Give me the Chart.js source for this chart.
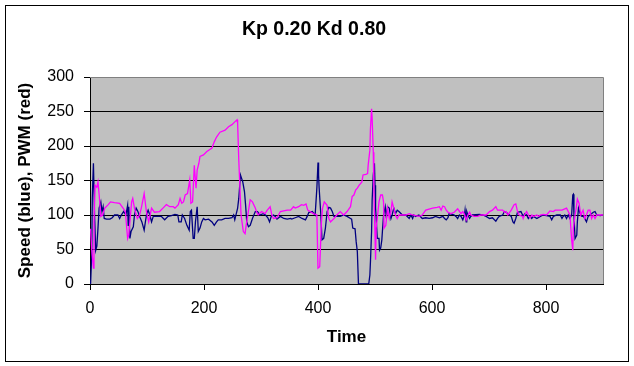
<!DOCTYPE html>
<html>
<head>
<meta charset="utf-8">
<script src="https://cdn.jsdelivr.net/npm/chart.js@4"></script>
<style>
  html, body { margin: 0; padding: 0; background: #fff; }
</style>
</head>
<body>
<canvas id="pidChart" width="634" height="366"></canvas>
<script>
// values (Kp 0.20 Kd 0.80 run)
const speedTime = [
  1, 3, 4, 6, 8, 10, 12, 14, 16, 19, 21, 23, 25, 29, 35, 39, 43, 49, 52, 55, 59, 63, 66, 67, 68, 70, 72, 76, 78, 81,
  84, 87, 91, 95, 99, 102, 105, 108, 111, 125, 131, 137, 143, 149,
  154, 156, 160, 162, 166, 170, 174, 176, 178, 181, 183, 185, 188, 190, 193, 196, 199, 202, 208, 214,
  218, 222, 225, 231, 237, 243, 249, 252, 254, 259, 261, 264, 266, 268, 271, 273, 275, 278, 281, 285,
  290, 294, 298, 304,
  308, 312, 315, 318, 322, 325, 328, 334, 340, 346, 352, 354, 360, 366, 372, 378, 381, 384, 390, 395,
  398, 400, 401, 402, 405, 407, 410, 413, 416, 419, 422, 425, 428, 433, 439, 445, 451, 457,
  459, 461, 465, 467, 469, 471, 489, 491, 492, 494, 495, 497, 499, 500, 501, 504, 507, 508, 510, 512,
  513, 515, 518, 520, 522, 525, 528, 530, 533, 536, 539, 542, 548, 554, 560, 563, 566, 568, 571, 577,
  583, 589, 595, 601, 606,
  613, 619, 622, 625, 628, 630, 636, 639, 642, 645, 648, 651, 654, 657, 658, 660, 661, 663, 666, 668,
  671, 683, 689, 695, 701, 706, 712, 715, 718, 724, 727, 730, 736, 739, 742, 744, 747, 750, 756,
  760, 763, 766, 769, 772, 775, 778, 784, 790, 795, 801, 807, 810, 813, 819, 825, 828, 830, 833, 836,
  839, 842, 845, 847, 848, 849, 851, 854, 855, 857, 860, 863, 866, 871, 874, 877, 883, 886, 889, 895, 900
];
const speed = [
  0, 42, 125, 175, 100, 49, 55, 81, 110, 119, 105, 112, 95, 94, 94, 96, 100, 100, 95, 100, 105, 100, 114, 85, 112, 66, 76, 83, 100, 110,
  105, 98, 90, 78, 100, 107, 100, 90, 98, 98, 93, 98, 99, 101,
  100, 90, 90, 100, 95, 85, 78, 105, 107, 66, 66, 90, 112, 76, 81, 90, 95, 93, 94, 90,
  85, 90, 93, 93, 95, 95, 96, 100, 93, 110, 124, 158, 153, 148, 134, 114, 90, 83, 85, 95,
  105, 105, 100, 102,
  100, 96, 90, 98, 100, 98, 94, 98, 95, 94, 95, 94, 96, 98, 95, 93, 98, 104, 105, 100,
  139, 176, 158, 139, 100, 64, 66, 81, 105, 111, 110, 105, 98, 98, 98, 100, 98, 95,
  94, 81, 80, 61, 47, 0, 0, 13, 32, 76, 122, 158, 175, 143, 110, 66, 66, 49, 52, 64,
  76, 100, 112, 95, 112, 110, 95, 100, 110, 102, 107, 105, 100, 100, 95, 100, 95, 100, 98, 100,
  95, 96, 95, 96, 98,
  96, 98, 95, 93, 96, 102, 101, 100, 98, 95, 100, 98, 93, 100, 107, 90, 105, 100, 95, 98,
  100, 101, 100, 98, 95, 96, 91, 95, 98, 100, 105, 104, 100, 98, 90, 88, 95, 104, 105,
  98, 102, 100, 95, 98, 95, 98, 95, 98, 100, 99, 98, 93, 98, 100, 100, 95, 98, 100, 95,
  100, 95, 100, 129, 130, 100, 66, 71, 90, 110, 102, 98, 98, 90, 98, 100, 104, 105, 100, 99, 100
];

const pwmTime = [
  1, 3, 6, 7, 9, 12, 14, 16, 19, 22, 26, 32, 36, 43, 52, 58, 62, 66, 68, 73,
  75, 78, 83, 87, 90, 95, 99, 103, 108, 113, 122, 128, 134, 140, 146,
  149, 155, 158, 161, 164, 167, 171, 175, 177, 180, 183, 186, 188, 191, 193, 199, 205, 214, 218, 222,
  228, 237, 243, 249, 254, 258, 259, 261, 265, 269, 272, 274, 281, 285, 290, 292, 295, 301, 307,
  311, 316, 319, 322, 328, 334, 346, 352, 357, 360, 366, 371, 375, 379, 382, 386, 392, 398, 400, 403,
  406, 408, 411, 416, 419, 422, 428, 433, 439, 445, 451, 457,
  460, 463, 466, 469, 472, 477, 479, 484, 487, 488, 491, 492, 494, 495, 497, 498, 500, 501, 502, 504,
  507, 510, 513, 515, 516, 519, 522, 525, 528, 530, 533, 536, 539, 542, 554, 560, 566, 577, 583, 589,
  601, 609,
  613, 616, 619, 622, 625, 628, 633, 639, 645, 651, 654, 657, 660, 663, 666, 668, 674, 680, 686, 695,
  701, 706, 712, 715, 724, 727, 730, 733, 739, 744, 747, 750, 753, 759,
  760, 763, 766, 769, 772, 775, 778, 784, 787, 790, 795, 801, 807, 813, 816, 828, 833, 836, 839, 842,
  845, 847, 848, 851, 853, 855, 858, 861, 865, 868, 871, 874, 877, 880, 883, 886, 889, 900
];
const pwm = [
  80, 50, 23, 90, 143, 140, 148, 130, 98, 100, 110, 115, 119, 118, 117, 110, 105, 66, 71, 119,
  124, 110, 95, 100, 110, 131, 105, 90, 110, 104, 105, 110, 115, 112, 112,
  110, 115, 124, 117, 119, 129, 131, 151, 117, 119, 172, 139, 165, 175, 185, 187, 192, 197, 206, 213,
  220, 223, 228, 231, 235, 238, 233, 180, 100, 76, 73, 85, 122, 119, 110, 105, 100, 105, 102,
  107, 112, 100, 95, 96, 105, 107, 107, 112, 110, 112, 115, 114, 116, 107, 105, 102, 100, 23, 25,
  90, 110, 119, 114, 95, 90, 95, 100, 105, 100, 105, 112,
  127, 129, 136, 139, 143, 148, 158, 159, 160, 172, 194, 225, 254, 240, 191, 139, 71, 35, 81, 95,
  119, 129, 129, 119, 81, 85, 110, 95, 105, 119, 110, 100, 95, 100, 100, 102, 100, 98, 100, 107,
  110, 111,
  112, 107, 113, 112, 107, 104, 102, 104, 109, 102, 105, 101, 93, 100, 104, 100, 98, 98, 100, 100,
  105, 107, 112, 107, 107, 104, 105, 100, 107, 115, 116, 105, 100, 98,
  95, 101, 105, 100, 96, 100, 98, 100, 98, 100, 101, 100, 106, 105, 107, 107, 109, 110, 105, 100,
  64, 49, 81, 100, 110, 123, 117, 100, 107, 95, 100, 107, 107, 95, 100, 95, 100, 100
];

const xTicks = [0, 200, 400, 600, 800];
const yTicks = [0, 50, 100, 150, 200, 250, 300];

const FONT = 'Liberation Sans, Arial, sans-serif';

const toPoints = (xs, ys) => xs.map((x, i) => ({ x, y: ys[i] }));

// white sheet, outer frame, grey plot area like the Excel default
const excelFrame = {
  id: 'excelFrame',
  beforeDraw(chart) {
    const { ctx, chartArea: a, width, height } = chart;
    ctx.save();
    ctx.fillStyle = '#fff';
    ctx.fillRect(0, 0, width, height);
    ctx.strokeStyle = '#000';
    ctx.lineWidth = 1;
    ctx.strokeRect(5.5, 5.5, 623, 356);
    ctx.fillStyle = '#c0c0c0';
    ctx.fillRect(a.left, a.top, a.right - a.left, a.bottom - a.top);
    ctx.restore();
  },
  afterDatasetsDraw(chart) {
    const { ctx, chartArea: a } = chart;
    const top = Math.round(a.top) + 0.5;
    const right = Math.round(a.right) + 0.5;
    ctx.save();
    ctx.strokeStyle = '#808080';
    ctx.lineWidth = 1;
    ctx.beginPath();
    ctx.moveTo(a.left, top);
    ctx.lineTo(right, top);
    ctx.lineTo(right, a.bottom);
    ctx.stroke();
    ctx.restore();
  }
};

new Chart(document.getElementById('pidChart').getContext('2d'), {
  type: 'line',
  data: {
    datasets: [
      {
        label: 'Speed',
        data: toPoints(speedTime, speed),
        borderColor: '#000080',
        borderWidth: 1.3,
        pointRadius: 0,
        tension: 0,
        order: 2
      },
      {
        label: 'PWM',
        data: toPoints(pwmTime, pwm),
        borderColor: '#ff00ff',
        borderWidth: 1.3,
        pointRadius: 0,
        tension: 0,
        order: 1
      }
    ]
  },
  options: {
    responsive: false,
    animation: false,
    devicePixelRatio: 1,
    layout: { padding: { left: 0, right: 6, top: 8, bottom: 14 } },
    plugins: {
      legend: { display: false },
      tooltip: { enabled: false },
      title: {
        display: true,
        text: 'Kp 0.20 Kd 0.80',
        color: '#000',
        font: { family: FONT, size: 19.5, weight: 'bold' },
        padding: { top: 10.3, bottom: 35.3 }
      }
    },
    scales: {
      x: {
        type: 'linear',
        min: 0,
        max: 900,
        afterBuildTicks: scale => { scale.ticks = xTicks.map(value => ({ value })); },
        afterFit: scale => { scale.height = 68; },
        grid: { drawOnChartArea: false, drawTicks: true, tickLength: 6, tickColor: '#000', color: '#000' },
        border: { color: '#000', width: 1 },
        ticks: { color: '#000', padding: 9.4, maxRotation: 0, font: { family: FONT, size: 16 } },
        title: {
          display: true,
          text: 'Time',
          color: '#000',
          font: { family: FONT, size: 17, weight: 'bold' },
          padding: { top: 0, bottom: 4.8 }
        }
      },
      y: {
        min: 0,
        max: 300,
        afterBuildTicks: scale => { scale.ticks = yTicks.map(value => ({ value })); },
        afterFit: scale => { scale.width = 90; },
        grid: {
          color: ctx => (ctx.tick && ctx.tick.value === 300 ? '#808080' : '#000'),
          tickColor: '#000',
          tickLength: 6,
          lineWidth: 1
        },
        border: { color: '#000', width: 1 },
        ticks: { color: '#000', padding: 10, font: { family: FONT, size: 16 } },
        title: {
          display: true,
          text: 'Speed (blue), PWM (red)',
          color: '#000',
          font: { family: FONT, size: 17, weight: 'bold' },
          padding: { top: 14.8, bottom: 0 }
        }
      },
      // empty strip that keeps the plot clear of the right frame
      spacer: {
        position: 'right',
        min: 0,
        max: 300,
        afterFit: scale => { scale.width = 25; },
        grid: { display: false },
        border: { display: false },
        ticks: { display: false }
      }
    }
  },
  plugins: [excelFrame]
});
</script>
</body>
</html>
